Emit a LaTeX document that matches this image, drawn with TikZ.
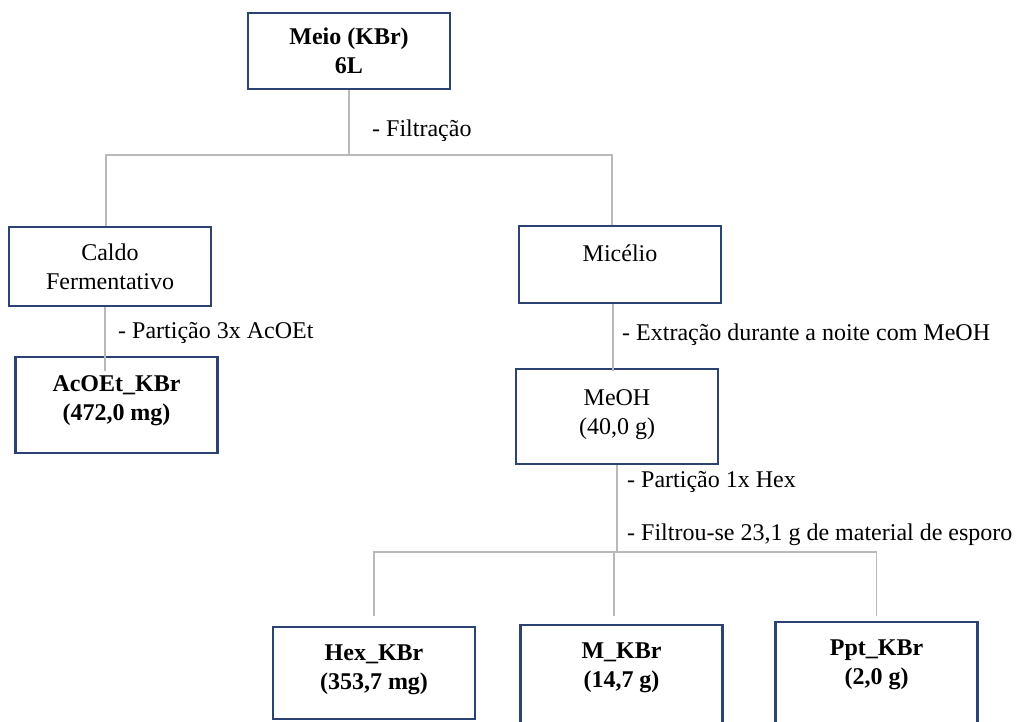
\documentclass[tikz,border=0pt]{standalone}
\usepackage{fontspec}
\setmainfont{Liberation Serif}
\usepackage{xcolor}
\usepackage{tikz}
\usetikzlibrary{positioning}
\definecolor{boxline}{RGB}{44,66,112}
\definecolor{linkgray}{RGB}{185,185,185}
\newcommand{\flowfont}{\fontsize{24}{29}\selectfont}

\begin{document}
\begin{tikzpicture}[x=1pt, y=-1pt, font=\flowfont,
    box/.style={draw=boxline, line width=2.5pt, rectangle, minimum width=202pt, align=center, inner sep=2pt},
    heavy/.style={font=\flowfont\bfseries},
    link/.style={draw=linkgray, line width=1.4pt},
    note/.style={anchor=west, inner sep=0pt}]
    \useasboundingbox (0,0) rectangle (1017,722);
    \clip (0,0) rectangle (1017,722);

    % boxes
    \node[box, heavy, minimum height=76pt] (meio) at (349,51) {Meio (KBr)\\6L};
    \node[box, minimum height=79pt] (caldo) at (110,266.5) {Caldo\\Fermentativo};
    \node[box, minimum height=77pt, text depth=23pt] (micelio) at (620,264.5) {Micélio};
    \node[box, heavy, minimum height=96pt, text depth=13pt] (acoet) at (116.5,405) {AcOEt\_KBr\\(472,0 mg)};
    \node[box, minimum height=95pt, text depth=9pt] (meoh) at (617,416.5) {MeOH\\(40,0 g)};
    \node[box, heavy, minimum height=92pt, text depth=12pt] (hex) at (374,673) {Hex\_KBr\\(353,7 mg)};
    \node[box, heavy, minimum height=105pt, text depth=24pt] (mkbr) at (621.5,677.5) {M\_KBr\\(14,7 g)};
    \node[box, heavy, minimum height=108pt, text depth=28pt] (ppt) at (876.5,676) {Ppt\_KBr\\(2,0 g)};

    % steps
    \node[note] (filt) at (372,131) {- Filtração};
    \node[note] (part3x) at (118,333) {- Partição 3x AcOEt};
    \node[note] (extr) at (622,335) {- Extração durante a noite com MeOH};
    \node[note] (part1x) at (627,482) {- Partição 1x Hex};
    \node[note] (esporo) at (627,535) {- Filtrou-se 23,1 g de material de esporo};

    % connectors
    \coordinate (fork1) at (349,155);
    \coordinate (fork2) at (617,552);
    \draw[link] (meio.south) -- (fork1);
    \draw[link] ([xshift=-4pt]caldo.north) |- (fork1) -| ([xshift=-8pt]micelio.north);
    \draw[link] ([xshift=-5pt]caldo.south) -- ([xshift=-5pt, yshift=-15pt]caldo.south |- acoet.north);
    \draw[link] ([xshift=-7pt]micelio.south) -- ([xshift=-7pt, yshift=-3pt]micelio.south |- meoh.north);
    \draw[link] (meoh.south) -- (fork2);
    \draw[link] ([yshift=10pt]hex.north) |- (fork2) -| ([yshift=5pt]ppt.north);
    \draw[link] ([xshift=-7.5pt]mkbr.north |- fork2) -- ([xshift=-7.5pt, yshift=8pt]mkbr.north);
\end{tikzpicture}
\end{document}
